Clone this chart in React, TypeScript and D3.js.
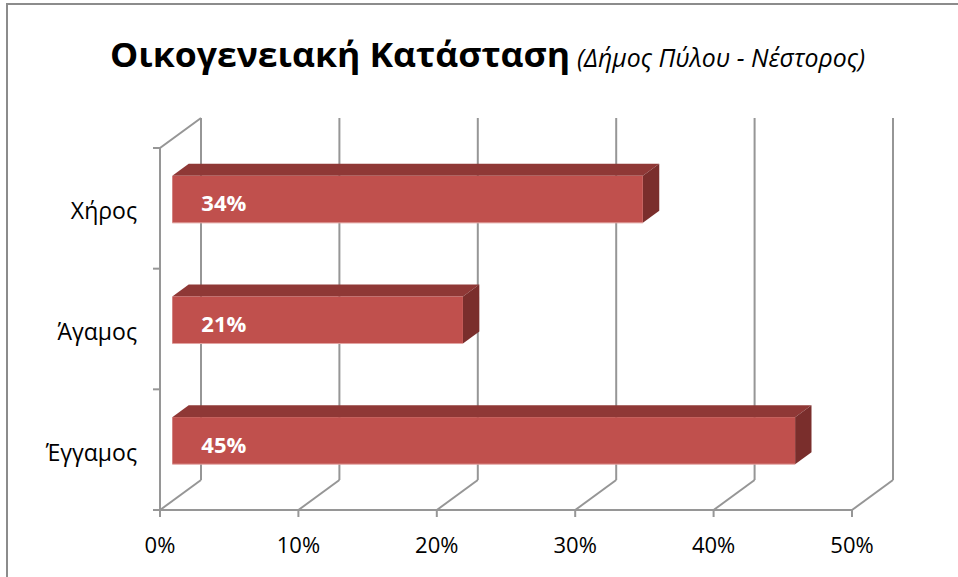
import { useEffect, useRef } from 'react'
import * as d3 from 'd3'

const categories = ['Χήρος', 'Άγαμος', 'Έγγαμος']
const values = [0.34, 0.21, 0.45]
const tickValues = [0, 0.1, 0.2, 0.3, 0.4, 0.5]
const titleMain = 'Οικογενειακή Κατάσταση'
const titleSub = '(Δήμος Πύλου - Νέστορος)'

const W = 958
const H = 577
const FONT = "'Open Sans', 'Noto Sans', sans-serif"

export default function App() {
  const svgRef = useRef<SVGSVGElement | null>(null)

  useEffect(() => {
    const svg = d3.select(svgRef.current)
    svg.selectAll('*').remove()

    // front plane of the 3d box
    const left = 160
    const right = 852
    const top = 148
    const bottom = 510
    // depth offset of the back wall
    const depthX = 41
    const depthY = -30

    const x = d3.scaleLinear().domain([0, 0.5]).range([left, right])
    const y = d3.scaleBand<string>().domain(categories).range([top, bottom])

    const gridColor = '#969696'

    // chart border
    svg
      .append('path')
      .attr('d', `M7,${H + 5} V4 H${W + 5}`)
      .attr('fill', 'none')
      .attr('stroke', '#8c8c8c')
      .attr('stroke-width', 2)

    // ================= TITLE =================
    svg
      .append('text')
      .attr('x', 110)
      .attr('y', 67)
      .attr('font-family', FONT)
      .attr('font-weight', 'bold')
      .attr('font-size', 34)
      .attr('textLength', 460)
      .attr('lengthAdjust', 'spacingAndGlyphs')
      .attr('fill', '#000')
      .text(titleMain)

    svg
      .append('text')
      .attr('x', 577)
      .attr('y', 67)
      .attr('font-family', FONT)
      .attr('font-style', 'italic')
      .attr('font-size', 25)
      .attr('textLength', 288)
      .attr('lengthAdjust', 'spacingAndGlyphs')
      .attr('fill', '#000')
      .text(titleSub)

    const g = svg.append('g')

    // ================= WALLS & GRID =================
    // back wall gridlines
    g.selectAll('.grid-back')
      .data(tickValues)
      .join('line')
      .attr('x1', (d) => x(d) + depthX)
      .attr('x2', (d) => x(d) + depthX)
      .attr('y1', top + depthY)
      .attr('y2', bottom + depthY)
      .attr('stroke', gridColor)
      .attr('stroke-width', 2)

    // floor diagonals
    g.selectAll('.grid-floor')
      .data(tickValues)
      .join('line')
      .attr('x1', (d) => x(d))
      .attr('x2', (d) => x(d) + depthX)
      .attr('y1', bottom)
      .attr('y2', bottom + depthY)
      .attr('stroke', gridColor)
      .attr('stroke-width', 2)

    // left wall
    g.append('path')
      .attr(
        'd',
        `M${left},${bottom} V${top} L${left + depthX},${top + depthY}`
      )
      .attr('fill', 'none')
      .attr('stroke', gridColor)
      .attr('stroke-width', 2)

    // front axis line
    g.append('line')
      .attr('x1', left)
      .attr('x2', right)
      .attr('y1', bottom)
      .attr('y2', bottom)
      .attr('stroke', gridColor)
      .attr('stroke-width', 2)

    // x ticks
    g.selectAll('.x-tick')
      .data(tickValues)
      .join('line')
      .attr('x1', (d) => x(d))
      .attr('x2', (d) => x(d))
      .attr('y1', bottom)
      .attr('y2', bottom + 7)
      .attr('stroke', gridColor)
      .attr('stroke-width', 2)

    g.selectAll('.x-label')
      .data(tickValues)
      .join('text')
      .attr('x', (d) => x(d))
      .attr('y', 553)
      .attr('text-anchor', 'middle')
      .attr('font-family', FONT)
      .attr('font-size', 22)
      .attr('fill', '#000')
      .text((d) => d3.format('.0%')(d))

    // y ticks on band boundaries
    const yBounds = [...categories.map((c) => y(c) as number), bottom]
    g.selectAll('.y-tick')
      .data(yBounds)
      .join('line')
      .attr('x1', left - 7)
      .attr('x2', left)
      .attr('y1', (d) => d)
      .attr('y2', (d) => d)
      .attr('stroke', gridColor)
      .attr('stroke-width', 2)

    g.selectAll('.y-label')
      .data(categories)
      .join('text')
      .attr('x', 137)
      .attr('y', (d) => (y(d) as number) + y.bandwidth() / 2 + 11)
      .attr('text-anchor', 'end')
      .attr('font-family', FONT)
      .attr('font-size', 23)
      .attr('fill', '#000')
      .text((d) => d)

    // ================= BARS =================
    const f0 = 0.3
    const f1 = 0.7
    const barH = y.bandwidth() * 0.39
    const ddx = depthX * (f1 - f0)
    const ddy = depthY * (f1 - f0)

    const bars = categories.map((c, i) => {
      const cy = (y(c) as number) + y.bandwidth() / 2 + depthY * f0
      return {
        c,
        v: values[i],
        x0: x(0) + depthX * f0,
        x1: x(values[i]) + depthX * f0,
        yt: cy - barH / 2,
        yb: cy + barH / 2,
      }
    })

    const bg = g.selectAll('.bar').data(bars).join('g').attr('class', 'bar')

    bg.append('polygon')
      .attr('points', (d) =>
        [
          [d.x0, d.yt],
          [d.x1, d.yt],
          [d.x1 + ddx, d.yt + ddy],
          [d.x0 + ddx, d.yt + ddy],
        ].join(' ')
      )
      .attr('fill', '#8f3836')

    bg.append('polygon')
      .attr('points', (d) =>
        [
          [d.x1, d.yt],
          [d.x1 + ddx, d.yt + ddy],
          [d.x1 + ddx, d.yb + ddy],
          [d.x1, d.yb],
        ].join(' ')
      )
      .attr('fill', '#7a2e2c')

    bg.append('rect')
      .attr('x', (d) => d.x0)
      .attr('y', (d) => d.yt)
      .attr('width', (d) => d.x1 - d.x0)
      .attr('height', (d) => d.yb - d.yt)
      .attr('fill', '#c0504d')

    bg.append('line')
      .attr('x1', (d) => d.x0)
      .attr('x2', (d) => d.x1)
      .attr('y1', (d) => d.yb)
      .attr('y2', (d) => d.yb)
      .attr('stroke', '#e2a4a2')
      .attr('stroke-width', 1)

    bg.append('text')
      .attr('x', (d) => d.x0 + 29)
      .attr('y', (d) => (d.yt + d.yb) / 2 + 12)
      .attr('font-family', FONT)
      .attr('font-weight', 'bold')
      .attr('font-size', 22)
      .attr('fill', '#fff')
      .text((d) => d3.format('.0%')(d.v))
  }, [])

  return (
    <svg
      ref={svgRef}
      width={W}
      height={H}
      style={{ position: 'absolute', left: 0, top: 0, background: '#fff' }}
    />
  )
}
